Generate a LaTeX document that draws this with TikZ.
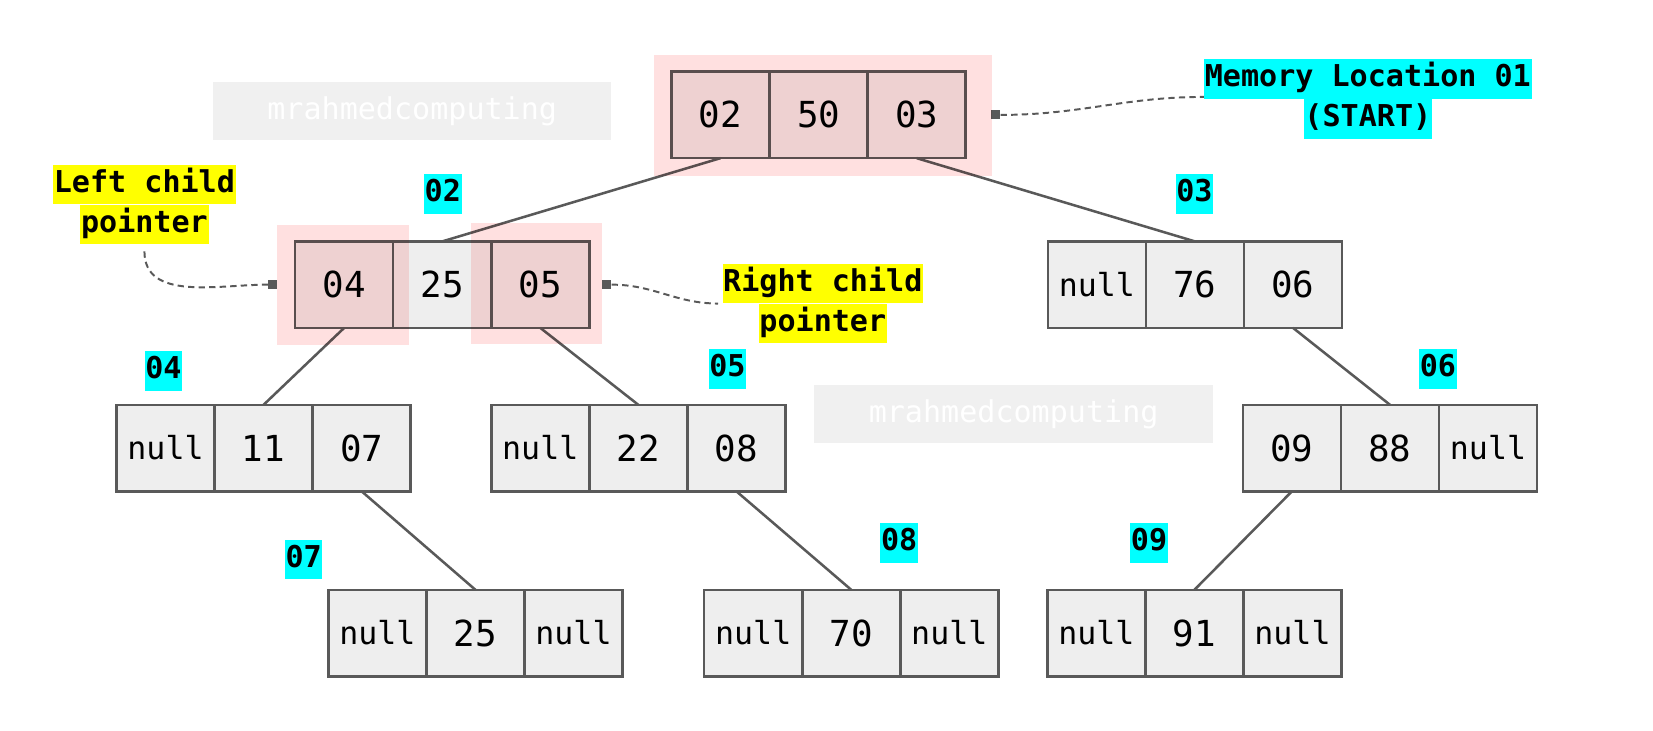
\documentclass[tikz,border=0pt]{standalone}
\usepackage{fontspec}
\setmonofont{DejaVu Sans Mono}
\usetikzlibrary{calc,positioning}
\definecolor{boxline}{RGB}{89,89,89}
\definecolor{boxfill}{RGB}{238,238,238}
\definecolor{hlpink}{RGB}{255,224,224}
\definecolor{tagcyan}{RGB}{0,255,255}
\definecolor{tagyellow}{RGB}{255,255,0}
\definecolor{wmgray}{RGB}{240,240,240}
\newcommand\YA{109}
\newcommand\YB{270}
\newcommand\YC{425}
\newcommand\YD{600.5}

\begin{document}
\begin{tikzpicture}
  [x=0.75pt,y=-0.75pt,
   cell/.style = {
     draw=boxline, fill=boxfill, line width=1.8pt,
     minimum width=69.75pt, minimum height=61.5pt,
     inner sep=0pt, outer sep=0pt,
     font=\ttfamily\fontsize{25.5}{30}\selectfont
   },
   nullcell/.style = {
     cell, font=\ttfamily\fontsize{22.5}{27}\selectfont
   },
   tag/.style = {
     fill=tagcyan, inner xsep=0.5pt, inner ysep=3.5pt,
     text height=16pt, text depth=5pt,
     font=\ttfamily\bfseries\fontsize{21.4}{26}\selectfont
   },
   note/.style = {
     tag, fill=tagyellow
   },
   wmark/.style = {
     fill=wmgray, text=white,
     minimum width=283.5pt, minimum height=41.25pt,
     font=\ttfamily\fontsize{21.4}{26}\selectfont
   },
   sqdot/.style = {
     fill=boxline, inner sep=0pt, minimum size=6.5pt
   },
   wire/.style = {
     draw=boxline, line width=1.8pt
   },
   pointer/.style = {
     draw=boxline, line width=1.4pt, dash pattern=on 4.5pt off 3pt
   },
   hl/.style = {
     fill=hlpink
   }]

  \useasboundingbox (0,0) rectangle (1568,693);

  % Watermarks.
  \node[wmark] at (391,105.5) (wm1) {mrahmedcomputing};
  \node[wmark] at (961.5,393) (wm2) {mrahmedcomputing};

  % Root record.
  \node[cell] at (776.5,\YA) (n1b) {50};
  \node[cell, left=0pt of n1b] (n1a) {02};
  \node[cell, right=0pt of n1b] (n1c) {03};

  % Second row.
  \node[cell] at (419.5,\YB) (n2b) {25};
  \node[cell, left=0pt of n2b] (n2a) {04};
  \node[cell, right=0pt of n2b] (n2c) {05};

  \node[cell] at (1133.5,\YB) (n3b) {76};
  \node[nullcell, left=0pt of n3b] (n3a) {null};
  \node[cell, right=0pt of n3b] (n3c) {06};

  % Third row.
  \node[cell] at (250,\YC) (n4b) {11};
  \node[nullcell, left=0pt of n4b] (n4a) {null};
  \node[cell, right=0pt of n4b] (n4c) {07};

  \node[cell] at (605.5,\YC) (n5b) {22};
  \node[nullcell, left=0pt of n5b] (n5a) {null};
  \node[cell, right=0pt of n5b] (n5c) {08};

  \node[cell] at (1318.5,\YC) (n6b) {88};
  \node[cell, left=0pt of n6b] (n6a) {09};
  \node[nullcell, right=0pt of n6b] (n6c) {null};

  % Leaves.
  \node[cell] at (451,\YD) (n7b) {25};
  \node[nullcell, left=0pt of n7b] (n7a) {null};
  \node[nullcell, right=0pt of n7b] (n7c) {null};

  \node[cell] at (807.5,\YD) (n8b) {70};
  \node[nullcell, left=0pt of n8b] (n8a) {null};
  \node[nullcell, right=0pt of n8b] (n8c) {null};

  \node[cell] at (1133,\YD) (n9b) {91};
  \node[nullcell, left=0pt of n9b] (n9a) {null};
  \node[nullcell, right=0pt of n9b] (n9c) {null};

  % Location tags.
  \node[tag] at (420,184) (t2) {02};
  \node[tag] at (1133,184) (t3) {03};
  \node[tag] at (155,352) (t4) {04};
  \node[tag] at (690,350) (t5) {05};
  \node[tag] at (1364,350) (t6) {06};
  \node[tag] at (288,531) (t7) {07};
  \node[tag] at (853,515) (t8) {08};
  \node[tag] at (1090,515) (t9) {09};

  % Callouts.
  \node[tag] at (1297.5,75) (memA) {Memory Location 01};
  \node[tag, below=0pt of memA] (memB) {(START)};
  \node[note] at (137,175) (leftA) {Left child};
  \node[note, below=0pt of leftA] (leftB) {pointer};
  \node[note] at (780.5,269) (rightA) {Right child};
  \node[note, below=0pt of rightA] (rightB) {pointer};

  \node[sqdot, right=18pt of n1c] (m1) {};
  \node[sqdot, left=12.5pt of n2a] (m2) {};
  \node[sqdot, right=9pt of n2c] (m3) {};

  \draw[pointer] (m1.east) to[out=0,in=180] ([yshift=1.5pt]memA.south west);
  \draw[pointer] ([yshift=-5pt]leftB.south) to[out=-90,in=180] (m2.west);
  \draw[pointer] (m3.east) to[out=0,in=180] ([xshift=-3pt]rightA.south west);

  % Child links.
  \draw[wire] (n1a.south) -- (n2b.north);
  \draw[wire] (n1c.south) -- (n3b.north);
  \draw[wire] (n2a.south) -- (n4b.north);
  \draw[wire] (n2c.south) -- (n5b.north);
  \draw[wire] (n3c.south) -- (n6b.north);
  \draw[wire] (n4c.south) -- (n7b.north);
  \draw[wire] (n5c.south) -- (n8b.north);
  \draw[wire] (n6a.south) -- (n9b.north);

  % Highlights.
  \begin{scope}[blend mode=multiply]
    \fill[hl] ($(n1a.north west)+(-17,-16)$) rectangle ($(n1c.south east)+(25,17)$);
    \fill[hl] ($(n2a.north west)+(-17,-16)$) rectangle ($(n2a.south east)+(15,16)$);
    \fill[hl] ($(n2c.north west)+(-19,-17)$) rectangle ($(n2c.south east)+(12,15)$);
  \end{scope}

\end{tikzpicture}
\end{document}
